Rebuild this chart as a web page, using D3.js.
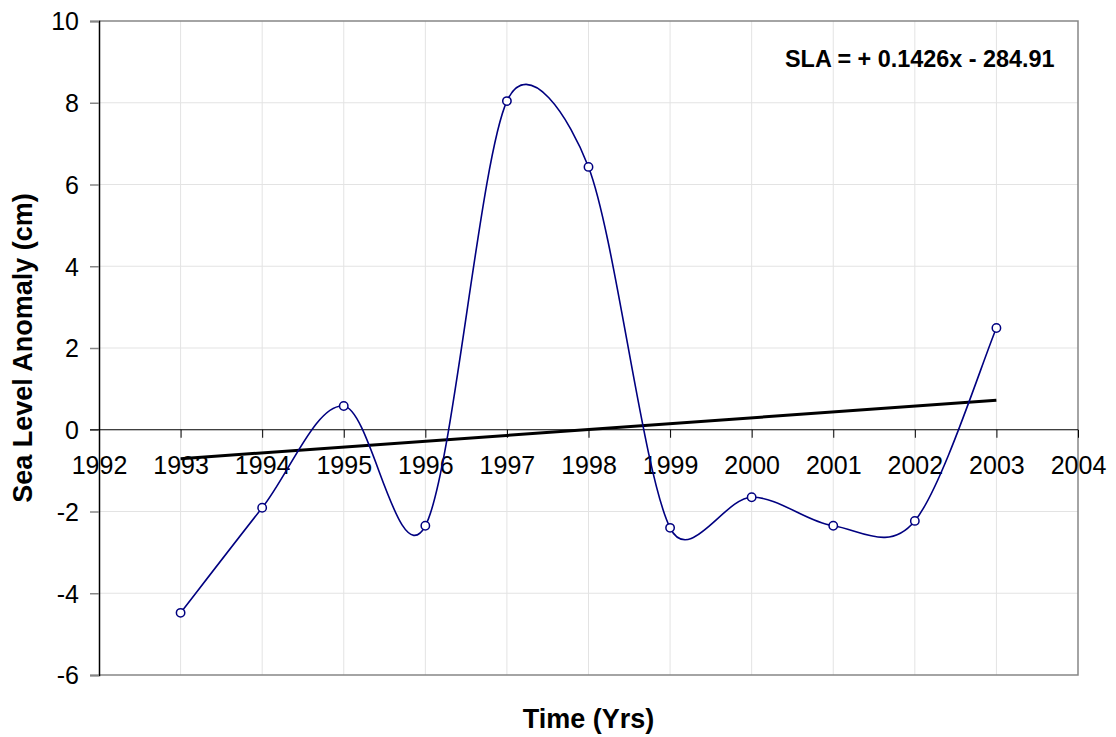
<!DOCTYPE html>
<html><head><meta charset="utf-8">
<script src="https://cdn.jsdelivr.net/npm/d3@7"></script>
<style>
html,body{margin:0;padding:0;background:#fff;}
svg{display:block;font-family:"Liberation Sans",Arial,sans-serif;}
</style></head>
<body>
<svg id="c" width="1116" height="737"></svg>
<script>
// ---- data ----
const years = [1993, 1994, 1995, 1996, 1997, 1998, 1999, 2000, 2001, 2002, 2003];
const sla = [-4.48, -1.91, 0.58, -2.35, 8.04, 6.43, -2.40, -1.65, -2.35, -2.23, 2.49];
const trendYears = [1993, 2003];
const trendValues = [-0.71, 0.72];
const xTicks = [1992, 1993, 1994, 1995, 1996, 1997, 1998, 1999, 2000, 2001, 2002, 2003, 2004];
const yTicks = [-6, -4, -2, 0, 2, 4, 6, 8, 10];
const equationText = "SLA = + 0.1426x - 284.91";
const xTitle = "Time (Yrs)";
const yTitle = "Sea Level Anomaly (cm)";

// ---- layout ----
const L = 99, R = 1078, T = 21, B = 675;
const svg = d3.select("#c");
const x = d3.scaleLinear().domain([1992, 2004]).range([L, R]);
const y = d3.scaleLinear().domain([-6, 10]).range([B, T]);

// Excel-like smoothing curve
function excelSmooth(context) {
  let pts = [];
  const dist = (a, b) => Math.hypot(b[0] - a[0], b[1] - a[1]);
  return {
    areaStart() {}, areaEnd() {},
    lineStart() { pts = []; },
    point(px, py) { pts.push([+px, +py]); },
    lineEnd() {
      const n = pts.length;
      if (!n) return;
      context.moveTo(pts[0][0], pts[0][1]);
      for (let i = 0; i < n - 1; i++) {
        const p0 = pts[Math.max(i - 1, 0)], p1 = pts[i], p2 = pts[i + 1], p3 = pts[Math.min(i + 2, n - 1)];
        const d12 = dist(p1, p2), d02 = dist(p0, p2), d13 = dist(p1, p3);
        let f1 = 1 / 6, f2 = 1 / 6;
        if (d02 / 6 >= d12 / 2 && d02 > 0) f1 = d12 / d02 / 2;
        if (d13 / 6 >= d12 / 2 && d13 > 0) f2 = d12 / d13 / 2;
        const c1 = [p1[0] + f1 * (p2[0] - p0[0]), p1[1] + f1 * (p2[1] - p0[1])];
        const c2 = [p2[0] - f2 * (p3[0] - p1[0]), p2[1] - f2 * (p3[1] - p1[1])];
        context.bezierCurveTo(c1[0], c1[1], c2[0], c2[1], p2[0], p2[1]);
      }
    }
  };
}

// grid
const g = svg.append("g");
g.selectAll(".vg").data(xTicks.slice(1, -1)).enter().append("line")
  .attr("x1", d => x(d)).attr("x2", d => x(d)).attr("y1", T).attr("y2", B)
  .attr("stroke", "#e3e3e3").attr("stroke-width", 1);
g.selectAll(".hg").data(yTicks.filter(d => d !== 0 && d !== 10 && d !== -6)).enter().append("line")
  .attr("x1", L).attr("x2", R).attr("y1", d => y(d)).attr("y2", d => y(d))
  .attr("stroke", "#e3e3e3").attr("stroke-width", 1);

// plot border (top, right, bottom)
g.append("path").attr("d", `M${L},${T}H${R}V${B}H${L}`)
  .attr("fill", "none").attr("stroke", "#868686").attr("stroke-width", 1.5);

// y axis
const yAxis = d3.axisLeft(y).tickValues(yTicks).tickSize(9).tickPadding(11).tickFormat(d => String(d));
const ya = svg.append("g").attr("transform", `translate(${L},0)`).call(yAxis);
ya.select(".domain").attr("stroke", "#000").attr("stroke-width", 1.5);
ya.selectAll(".tick line").attr("stroke", "#868686").attr("stroke-width", 1.5);
ya.selectAll(".tick text").attr("font-size", 25).attr("fill", "#000")
  .attr("font-family", "Liberation Sans, Arial, sans-serif").attr("dy", "0.35em");

// x axis at zero
const xAxis = d3.axisBottom(x).tickValues(xTicks).tickSize(8).tickPadding(18).tickFormat(d => String(d));
const xa = svg.append("g").attr("transform", `translate(0,${y(0)})`).call(xAxis);
xa.select(".domain").remove();
xa.append("line").attr("x1", L - 9).attr("x2", R).attr("y1", 0).attr("y2", 0)
  .attr("stroke", "#000").attr("stroke-width", 1.2);
xa.selectAll(".tick line").attr("stroke", "#000").attr("stroke-width", 1);
xa.selectAll(".tick text").attr("font-size", 25).attr("fill", "#000")
  .attr("font-family", "Liberation Sans, Arial, sans-serif");

// trend line
svg.append("path")
  .datum(trendYears.map((d, i) => [d, trendValues[i]]))
  .attr("d", d3.line().x(d => x(d[0])).y(d => y(d[1])))
  .attr("stroke", "#000").attr("stroke-width", 3).attr("fill", "none");

// series
const data = years.map((d, i) => [d, sla[i]]);
svg.append("path").datum(data)
  .attr("d", d3.line().x(d => x(d[0])).y(d => y(d[1])).curve(excelSmooth))
  .attr("stroke", "#000080").attr("stroke-width", 1.6).attr("fill", "none");
svg.selectAll(".pt").data(data).enter().append("circle")
  .attr("cx", d => x(d[0])).attr("cy", d => y(d[1])).attr("r", 4.2)
  .attr("fill", "#fff").attr("stroke", "#000080").attr("stroke-width", 1.5);

// equation
svg.append("text").attr("x", 785).attr("y", 67).attr("font-size", 23.4).attr("font-weight", "bold")
  .text(equationText);

// titles
svg.append("text").attr("x", (L + R) / 2).attr("y", 728).attr("text-anchor", "middle")
  .attr("font-size", 27).attr("font-weight", "bold").text(xTitle);
svg.append("text").attr("transform", `translate(32,${(T + B) / 2}) rotate(-90)`)
  .attr("text-anchor", "middle").attr("font-size", 27).attr("font-weight", "bold").text(yTitle);
</script>
</body></html>
